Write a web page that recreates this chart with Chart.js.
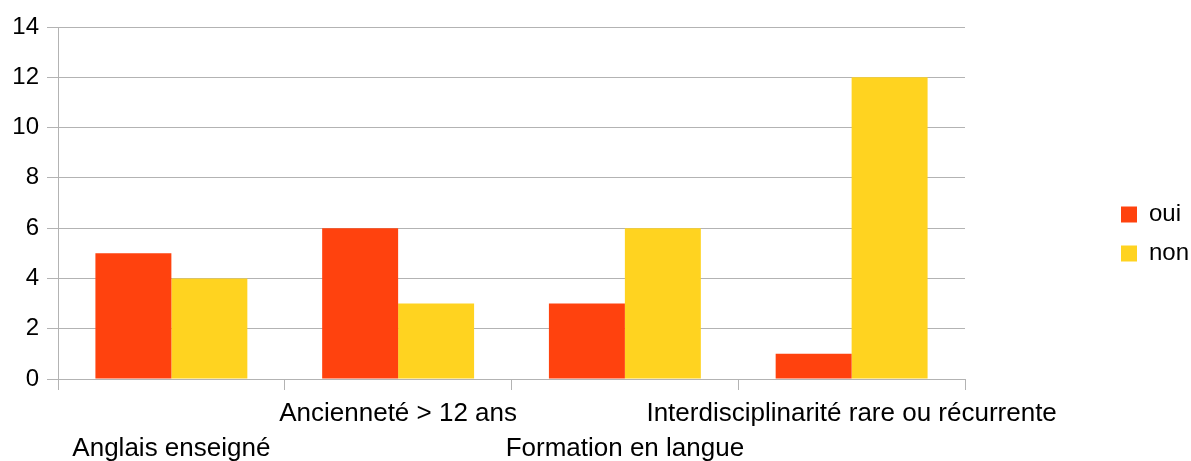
<!DOCTYPE html>
<html>
<head>
<meta charset="utf-8">
<script src="https://cdn.jsdelivr.net/npm/chart.js@4/dist/chart.umd.min.js"></script>
<style>
  html, body { margin: 0; padding: 0; background: #fff; }
  #wrap { width: 1191px; height: 461px; }
</style>
</head>
<body>
<div id="wrap"><canvas id="myChart" width="1191" height="461"></canvas></div>
<script>
// values
const categories = ['Anglais enseigné', 'Ancienneté > 12 ans', 'Formation en langue', 'Interdisciplinarité rare ou récurrente'];
const ouiValues = [5, 6, 3, 1];
const nonValues = [4, 3, 6, 12];
const yTicks = [0, 2, 4, 6, 8, 10, 12, 14];

const GRID = '#b3b3b3';
const FONT = 'Liberation Sans';

// move the legend out to the right edge, the chart area keeps its place
const legendShift = {
  id: 'legendShift',
  afterLayout: function(chart) {
    const lg = chart.legend;
    if (!lg) return;
    const w = lg.width;
    lg.left = 1106;
    lg.right = lg.left + w;
    lg.top = lg.top - 10;
    lg.bottom = lg.bottom - 10;
  }
};

const config = {
  type: 'bar',
  data: {
    labels: categories,
    datasets: [{
      label: 'oui',
      data: ouiValues,
      backgroundColor: '#ff420e'
    }, {
      label: 'non',
      data: nonValues,
      backgroundColor: '#ffd320'
    }]
  },
  options: {
    responsive: false,
    animation: false,
    devicePixelRatio: 1,
    layout: { padding: { top: 27, left: 0, right: 0, bottom: 0 } },
    datasets: {
      bar: { categoryPercentage: 0.67, barPercentage: 1.0, borderWidth: 0 }
    },
    plugins: {
      tooltip: { enabled: false },
      legend: {
        position: 'right',
        labels: {
          boxWidth: 16,
          boxHeight: 16,
          padding: 15,
          color: '#000',
          font: { family: FONT, size: 24 }
        }
      }
    },
    scales: {
      x: {
        offset: true,
        grid: {
          offset: true,
          drawOnChartArea: true,
          drawTicks: true,
          tickLength: 11,
          // only the right edge of the plot gets a vertical line
          color: ctx => ctx.index === categories.length ? '#d0d0d0' : 'rgba(0,0,0,0)',
          tickColor: GRID
        },
        border: { display: true, color: GRID },
        ticks: {
          autoSkip: false,
          maxRotation: 0,
          minRotation: 0,
          padding: 6,
          color: '#000',
          font: { family: FONT, size: 26, lineHeight: 1.35 },
          // staggered labels: every other one drops to a second line
          callback: function(value, index) {
            const lbl = categories[index];
            return index % 2 === 0 ? ['', lbl] : [lbl];
          }
        },
        afterFit: function(scale) {
          scale.height = 82;
          scale.paddingLeft = 0;
          scale.paddingRight = 226;
        }
      },
      y: {
        min: 0,
        max: 14,
        afterBuildTicks: function(scale) {
          scale.ticks = yTicks.map(v => ({ value: v }));
        },
        grid: { color: GRID, tickLength: 11, tickColor: GRID },
        border: { display: true, color: GRID },
        ticks: {
          padding: 8,
          color: '#000',
          font: { family: FONT, size: 24 }
        },
        afterFit: function(scale) {
          scale.width = 58;
          scale.paddingTop = 0;
          scale.paddingBottom = 0;
        }
      }
    }
  },
  plugins: [legendShift]
};

const chart = new Chart(document.getElementById('myChart'), config);
</script>
</body>
</html>
